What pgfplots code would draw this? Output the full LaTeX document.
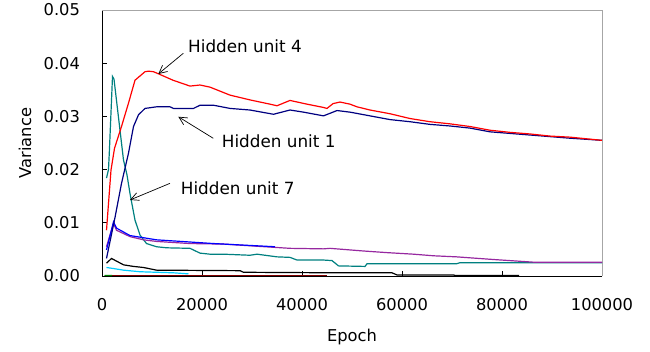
\documentclass[border=0pt]{standalone}
\usepackage{fontspec}
\setmainfont{DejaVu Sans}
\usepackage{pgfplots}
\pgfplotsset{compat=1.18}
\usetikzlibrary{arrows.meta}
\newcommand\myfont{\fontsize{16.3}{19.5}\selectfont}
\newcommand\annfont{\fontsize{16.8}{20}\selectfont}
\definecolor{cnavy}{RGB}{0,0,128}
\definecolor{cteal}{RGB}{0,128,128}
\definecolor{cpurple}{RGB}{150,40,160}
\definecolor{csky}{RGB}{0,204,255}
\definecolor{cmaroon}{RGB}{128,0,0}
\definecolor{cgreen}{RGB}{0,128,0}
\begin{document}
\begin{tikzpicture}
\useasboundingbox (0,0) rectangle (650pt,351pt);
\begin{axis}[
  at={(102pt,75pt)}, anchor=south west,
  scale only axis, width=500pt, height=266pt,
  xmin=0, xmax=100000, ymin=0, ymax=0.05,
  axis x line*=bottom, axis y line*=left,
  axis line style={-, black, line width=0.8pt},
  xtick={0,20000,40000,60000,80000,100000},
  xticklabels={0,20000,40000,60000,80000,100000},
  ytick={0,0.01,0.02,0.03,0.04,0.05},
  yticklabels={0.00,0.01,0.02,0.03,0.04,0.05},
  scaled x ticks=false, scaled y ticks=false,
  tick align=inside, major tick length=5pt,
  tick style={black, line width=0.8pt},
  xticklabel style={font=\myfont, yshift=-19pt},
  yticklabel style={font=\myfont, xshift=-18.5pt},
  xlabel={Epoch}, ylabel={Variance},
  xlabel style={font=\myfont, at={(axis description cs:0.5,-0.231)}, anchor=center},
  ylabel style={font=\myfont, at={(axis description cs:-0.154,0.5)}, anchor=center},
  every axis plot/.append style={line width=1.2pt, mark=none},
  clip=false,
]
\draw[gray!70, line width=0.8pt] (rel axis cs:0,1) -- (rel axis cs:1,1) -- (rel axis cs:1,0);
% maroon
\addplot[cmaroon] coordinates {(1000,0.00005) (45000,0.00005)};
% green
\addplot[cgreen] coordinates {(500,0.00012) (2000,0.00008)};
% sky
\addplot[csky] coordinates {(900,0.0016) (2300,0.0014) (4300,0.0011) (7600,0.0008) (14300,0.0006) (17300,0.0004)};
% black
\addplot[black] coordinates {(900,0.0024) (1900,0.0033) (4300,0.0021) (6300,0.0018) (8300,0.0016) (10900,0.0011) (27600,0.0010) (28300,0.0007) (47000,0.0006) (58000,0.0006) (59000,0.0002) (70400,0.0002) (70500,0.0001) (83400,0.0001)};
% teal
\addplot[cteal] coordinates {(900,0.0184) (1300,0.0200) (1500,0.0240) (2100,0.0375) (2400,0.0370) (4300,0.0218) (5000,0.0190) (5600,0.0155) (6600,0.0105) (7600,0.0077) (8900,0.0061) (10900,0.0055) (12900,0.0053) (17600,0.0052) (19600,0.0043) (21600,0.0041) (24300,0.0041) (29600,0.0039) (31000,0.0041) (35000,0.0036) (37600,0.0035) (39000,0.0030) (44300,0.0030) (46000,0.0029) (47300,0.0019) (52600,0.0018) (53000,0.0023) (70900,0.0023) (71600,0.0025) (100000,0.0025)};
% purple
\addplot[cpurple] coordinates {(900,0.0055) (2300,0.0099) (2900,0.0086) (5600,0.0074) (8300,0.0068) (10900,0.0065) (17600,0.0061) (24300,0.0060) (30900,0.0056) (37600,0.0052) (44300,0.0051) (45600,0.0052) (52300,0.0047) (56900,0.0044) (62300,0.0041) (66300,0.0038) (70900,0.0036) (78300,0.0031) (86300,0.0026) (100000,0.0026)};
% blue
\addplot[blue] coordinates {(900,0.0049) (2300,0.0102) (2900,0.0090) (5600,0.0076) (10900,0.0068) (22300,0.0061) (34600,0.0055)};
% navy (hidden unit 1)
\addplot[cnavy] coordinates {(900,0.0033) (2600,0.0110) (3900,0.0174) (5300,0.0231) (6300,0.0281) (7300,0.0303) (8600,0.0315) (10900,0.0318) (13600,0.0318) (14300,0.0315) (18300,0.0315) (19600,0.0321) (22300,0.0321) (25600,0.0315) (29600,0.0312) (34300,0.0304) (37600,0.0312) (40300,0.0308) (44300,0.0301) (47000,0.0311) (49600,0.0308) (53600,0.0301) (57600,0.0294) (61600,0.0290) (65600,0.0285) (69600,0.0282) (73600,0.0278) (77600,0.0271) (81600,0.0268) (85600,0.0265) (89600,0.0262) (93600,0.0259) (100000,0.0255)};
% red (hidden unit 4)
\addplot[red] coordinates {(900,0.0086) (1800,0.0199) (2500,0.0240) (3900,0.0281) (5300,0.0325) (6600,0.0368) (8600,0.0384) (9300,0.0385) (10300,0.0384) (11300,0.0380) (14200,0.0368) (17600,0.0357) (19600,0.0359) (21600,0.0355) (25600,0.0340) (29600,0.0331) (33600,0.0323) (35000,0.0320) (37600,0.0330) (41000,0.0323) (44200,0.0317) (45000,0.0315) (46200,0.0324) (47600,0.0327) (49600,0.0323) (51000,0.0318) (53600,0.0312) (57600,0.0305) (61600,0.0296) (65600,0.0290) (69600,0.0286) (73600,0.0281) (77600,0.0274) (81600,0.0270) (85600,0.0267) (89600,0.0263) (93600,0.0261) (100000,0.0255)};
% annotations
\draw[line width=0.7pt, -{Straight Barb[length=8pt,width=8pt]}] (axis cs:16260,0.04186) -- (axis cs:11260,0.03797);
\node[font=\annfont, anchor=west, inner sep=0pt] at (axis cs:17200,0.04327) {Hidden unit 4};
\draw[line width=0.7pt, -{Straight Barb[length=8pt,width=8pt]}] (axis cs:22260,0.02588) -- (axis cs:15260,0.02994);
\node[font=\annfont, anchor=west, inner sep=0pt] at (axis cs:23940,0.02524) {Hidden unit 1};
\draw[line width=0.7pt, -{Straight Barb[length=8pt,width=8pt]}] (axis cs:13600,0.01742) -- (axis cs:5600,0.01429);
\node[font=\annfont, anchor=west, inner sep=0pt] at (axis cs:15740,0.01648) {Hidden unit 7};
\end{axis}
\end{tikzpicture}
\end{document}
